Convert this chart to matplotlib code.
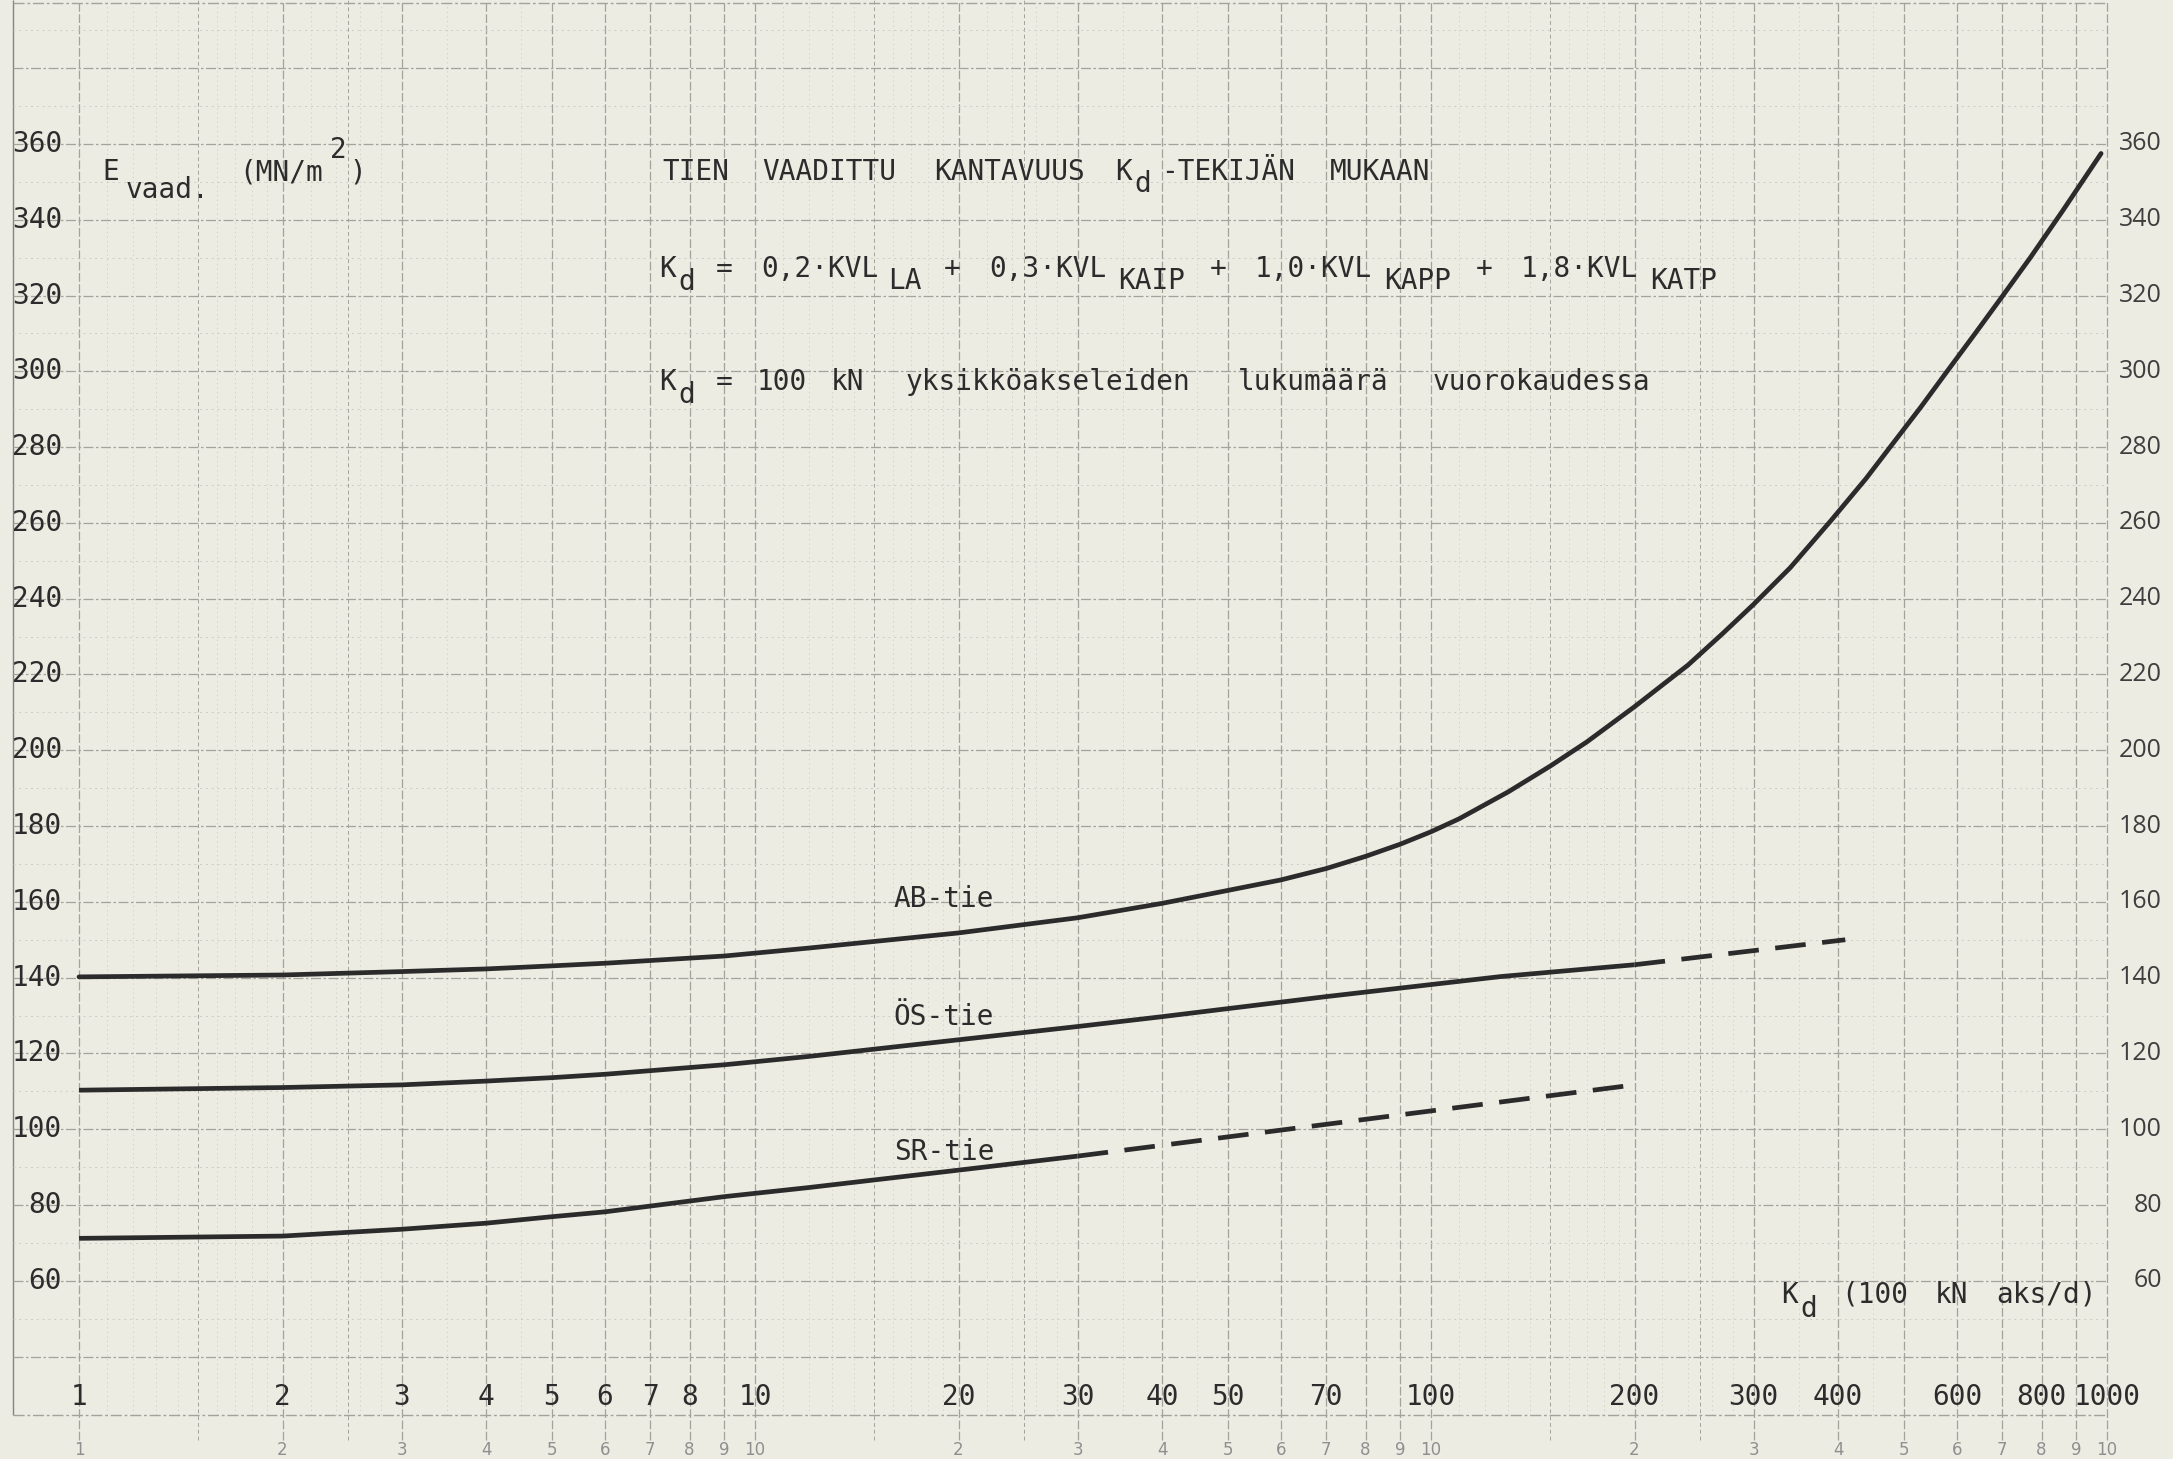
import re
import numpy as np
import matplotlib
matplotlib.use("Agg")
import matplotlib.pyplot as plt

# E_vaad. as a function of Kd
kd_ab = [1, 2, 3, 4, 5, 6, 9, 12, 20, 30, 40, 50, 60, 70, 80, 90, 100, 110,
         130, 150, 170, 200, 240, 270, 300, 340, 390, 440, 480, 530, 580, 640,
         700, 770, 860, 980]
e_ab = [140.2, 140.7, 141.6, 142.3, 143.1, 143.8, 145.7, 147.8, 151.8, 155.8,
        159.6, 163.0, 165.8, 168.8, 172.0, 175.2, 178.5, 181.9, 189.0, 195.8,
        202.2, 211.5, 222.5, 230.8, 238.5, 248.2, 260.5, 271.7, 280.5, 290.5,
        300.0, 310.3, 319.8, 330.0, 342.4, 357.5]

kd_os = [1, 2, 3, 4, 5, 6, 9, 12, 20, 30, 40, 70, 127, 200]
e_os = [110.3, 111.0, 111.7, 112.7, 113.6, 114.5, 117.0, 119.2, 123.6, 127.1,
        129.7, 135.0, 140.3, 143.4]
kd_os_ext = [200, 410]
e_os_ext = [143.4, 150.0]

kd_sr = [1, 2, 3, 4, 5, 6, 9, 12, 20, 30]
e_sr = [71.2, 71.8, 73.6, 75.2, 76.9, 78.2, 82.2, 84.6, 89.2, 92.9]
kd_sr_ext = [30, 200]
e_sr_ext = [92.9, 111.7]

x_ticks = [1, 2, 3, 4, 5, 6, 7, 8, 10, 20, 30, 40, 50, 70, 100, 200, 300, 400,
           600, 800, 1000]
y_ticks = list(range(60, 361, 20))
paper_x = [1, 2, 3, 4, 5, 6, 7, 8, 9, 10, 20, 30, 40, 50, 60, 70, 80, 90, 100,
           200, 300, 400, 500, 600, 700, 800, 900, 1000]
paper_lbl = ["1", "2", "3", "4", "5", "6", "7", "8", "9", "10",
             "2", "3", "4", "5", "6", "7", "8", "9", "10",
             "2", "3", "4", "5", "6", "7", "8", "9", "10"]

W, H = 2173, 1459
PAPER = "#ecece3"
INK = "#2c2c2c"
GRID = "#a3a39c"
GRID2 = "#cdcdc5"
MONO = "DejaVu Sans Mono"

fig = plt.figure(figsize=(W / 100, H / 100), dpi=100, facecolor=PAPER)
ax = fig.add_axes([0, 0, 1, 1])
ax.set_xscale("log")
ax.set_xlim(0.764, 1252)
ax.set_ylim(12.97, 398.0)
ax.axis("off")

# graph paper
left = 0.799
decades = [1, 10, 100]
major = [k * d for d in decades for k in range(1, 10)] + [1000]
medium = [f * d for d in decades for f in (1.5, 2.5)]
minor = [f * d for d in decades for f in (1.1, 1.2, 1.3, 1.4, 1.6, 1.7, 1.8,
                                         1.9, 2.2, 2.4, 2.6, 2.8, 3.5, 4.5)]
ax.vlines(major, 18, 398, colors=GRID, lw=0.9, linestyles=(0, (7, 2)))
ax.vlines(medium, 18, 398, colors=GRID, lw=0.7, linestyles=(0, (4, 3)))
ax.vlines(minor, 24.5, 398, colors=GRID2, lw=0.6, linestyles=(0, (1.5, 4)))
ax.vlines([left], 24.5, 398, colors="#85857f", lw=1.0)
ax.hlines(list(range(40, 381, 20)), left, 1000, colors=GRID, lw=0.9,
          linestyles=(0, (8, 2, 2, 2)))
ax.hlines(list(range(50, 391, 20)), left, 1000, colors=GRID2, lw=0.7,
          linestyles=(0, (2, 4)))
ax.hlines([24.5, 397.3], left, 1000, colors=GRID, lw=1.0,
          linestyles=(0, (8, 2, 2, 2)))

# curves
lw = 3.4
ax.plot(kd_ab, e_ab, color="#2b2b2b", lw=lw, solid_capstyle="round",
        solid_joinstyle="round")
ax.plot(kd_os, e_os, color="#2b2b2b", lw=lw, solid_capstyle="butt",
        solid_joinstyle="round")
ax.plot(kd_os_ext, e_os_ext, color="#2b2b2b", lw=lw, dashes=(6.5, 3.5))
ax.plot(kd_sr, e_sr, color="#2b2b2b", lw=lw, solid_capstyle="butt",
        solid_joinstyle="round")
ax.plot(kd_sr_ext, e_sr_ext, color="#2b2b2b", lw=lw, dashes=(6.5, 3.5))

# tick labels
for v in y_ticks:
    ax.text(0.9437, v, str(v), ha="right", va="center", fontsize=20,
            family=MONO, color=INK)
    ax.text(1206, v, str(v), ha="right", va="center", fontsize=18,
            family="Open Sans", color="#3e3e3e")
for x in x_ticks:
    ax.text(x, 29.3, str(x), ha="center", va="center", fontsize=20,
            family=MONO, color=INK)
for x, s in zip(paper_x, paper_lbl):
    ax.text(x, 15.3, s, ha="center", va="center", fontsize=12,
            family="DejaVu Sans", color="#8f8f8f")

# typewriter text, fixed pitch
PITCH = 19.0


def typed(x0, y0, parts, size=20):
    col = 0
    for s, dy in parts:
        for m in re.finditer(r"\S+", s):
            word = m.group()
            xc = x0 + (col + m.start() + len(word) / 2) * PITCH - 4
            fig.text(xc / W, 1 - (y0 + dy) / H, word, ha="center",
                     va="baseline", fontsize=size, family=MONO, color=INK)
        col += len(s)


typed(105, 180, [("E", 0), ("vaad.", 18), (" (MN/m", 0), ("2", -22), (")", 0)])
typed(662, 180, [("TIEN VAADITTU KANTAVUUS K", 0), ("d", 12),
                 ("-TEKIJÄN MUKAAN", 0)])
typed(662, 277, [("K", 0), ("d", 13), (" = 0,2·KVL", 0), ("LA", 12),
                 (" + 0,3·KVL", 0), ("KAIP", 12), (" + 1,0·KVL", 0),
                 ("KAPP", 12), (" + 1,8·KVL", 0), ("KATP", 12)])
typed(662, 390, [("K", 0), ("d", 13),
                 (" = 100 kN yksikköakseleiden lukumäärä vuorokaudessa", 0)])
typed(1784, 1303, [("K", 0), ("d", 14), (" (100 kN aks/d)", 0)])
typed(891, 907, [("AB-tie", 0)])
typed(891, 1025, [("ÖS-tie", 0)])
typed(891, 1160, [("SR-tie", 0)])

fig.savefig("out.png", dpi=100, facecolor=PAPER)
